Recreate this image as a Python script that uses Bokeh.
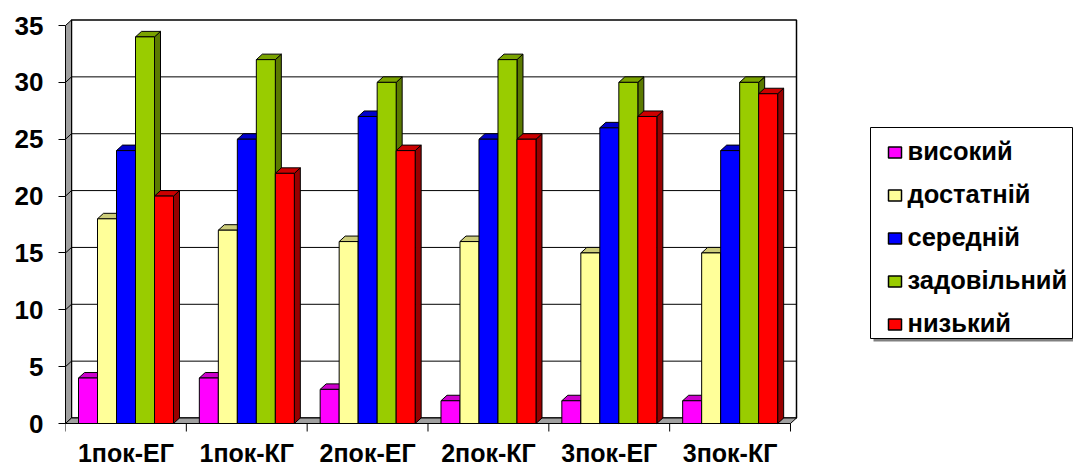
from bokeh.plotting import figure
from bokeh.models import Range1d, LinearAxis, FixedTicker
from bokeh.core.properties import value
from bokeh.embed import file_html
from bokeh.resources import INLINE

# ---------------- data ----------------
categories = ["1пок-ЕГ", "1пок-КГ", "2пок-ЕГ", "2пок-КГ", "3пок-ЕГ", "3пок-КГ"]
series_names = ["високий", "достатній", "середній", "задовільний", "низький"]
vysokyi = [4, 4, 3, 2, 2, 2]
dostatnii = [18, 17, 16, 16, 15, 15]
serednii = [24, 25, 27, 25, 26, 24]
zadovilnyi = [34, 32, 30, 32, 30, 30]
nyzkyi = [20, 22, 24, 25, 27, 29]
y_ticks = [0, 5, 10, 15, 20, 25, 30, 35]

series = [vysokyi, dostatnii, serednii, zadovilnyi, nyzkyi]
colors = ["#FF00FF", "#FFFF99", "#0000FF", "#99CC00", "#FF0000"]

FONT = value("Liberation Sans")

# ---------------- geometry ----------------
W, H = 1073, 468
LEFT = 65             # frame left (figure px)
PX_X = 120.833        # px per category
PX_Y = 11.371         # px per unit
Y0 = 423              # figure px of value 0
x_end = (W - LEFT) / PX_X
y_end = Y0 / PX_Y
y_start = -(H - Y0) / PX_Y

def fx(px):  # figure px -> data x
    return (px - LEFT) / PX_X

def fy(py):  # figure px -> data y
    return (Y0 - py) / PX_Y

dx = 6 / PX_X
dy = 5.5 / PX_Y
n = len(categories)
ymax = y_ticks[-1]
bw = 19 / PX_X
off = 13 / PX_X

def shade(hexcol, f):
    h = hexcol.lstrip("#")
    r, g, b = (int(h[i:i + 2], 16) for i in (0, 2, 4))
    return "#%02X%02X%02X" % (int(r * f), int(g * f), int(b * f))

p = figure(width=W, height=H, x_range=Range1d(0, x_end), y_range=Range1d(y_start, y_end),
           x_axis_type=None, y_axis_type=None, output_backend="svg", toolbar_location=None,
           min_border_left=LEFT, min_border_right=0, min_border_top=0, min_border_bottom=0,
           outline_line_color=None, background_fill_color="white", border_fill_color="white")

# walls
p.quad(left=dx, right=n + dx, bottom=dy, top=ymax + dy, fill_color="white",
       line_color="black", line_width=1.5)
p.patch([0, 0, dx, dx], [0, ymax, ymax + dy, dy], fill_color="#A0A0A0", line_color="black")
p.patch([0, n, n + dx, dx], [0, 0, dy, dy], fill_color="#A0A0A0", line_color="black")
gx, gy = [], []
for k in y_ticks[1:-1]:
    gx.append([0, dx, n + dx])
    gy.append([k, k + dy, k + dy])
p.multi_line(gx, gy, line_color="black", line_width=1)

# bars
xs, ys, fc = [], [], []
for g in range(n):
    for s, vals in enumerate(series):
        v = vals[g]
        x0 = g + off + s * bw
        x1 = x0 + bw
        xs.append([x1, x1 + dx, x1 + dx, x1]); ys.append([0, dy, v + dy, v]); fc.append(shade(colors[s], 0.6))
        xs.append([x0, x1, x1 + dx, x0 + dx]); ys.append([v, v, v + dy, v + dy]); fc.append(shade(colors[s], 0.8))
        xs.append([x0, x1, x1, x0]); ys.append([0, 0, v, v]); fc.append(colors[s])
p.patches(xs, ys, fill_color=fc, line_color="black", line_width=1)

# x axis (drawn through data scale)
p.segment(x0=[0], y0=[0], x1=[n], y1=[0], line_color="black", line_width=1)
p.segment(x0=list(range(n + 1)), y0=[0] * (n + 1), x1=list(range(n + 1)),
          y1=[-8 / PX_Y] * (n + 1), line_color="black", line_width=1)
p.text(x=[i + 0.5 for i in range(n)], y=[fy(452)] * n, text=categories,
       text_font=FONT, text_font_style="bold", text_font_size="25px",
       text_align="center", text_baseline="middle", text_color="black")

# y axis
yax = LinearAxis(ticker=FixedTicker(ticks=y_ticks), bounds=(0, ymax),
                 major_tick_out=7, major_tick_in=0, minor_tick_out=0, minor_tick_in=0,
                 major_label_standoff=15, axis_line_color="black", major_tick_line_color="black",
                 major_label_text_font="Liberation Sans", major_label_text_font_style="bold",
                 major_label_text_font_size="26px", major_label_text_color="black")
p.add_layout(yax, "left")

# legend (manual)
p.quad(left=fx(873), right=fx(1076), top=fy(130), bottom=fy(341), fill_color="#808080", line_color=None)
p.quad(left=fx(870), right=fx(1072), top=fy(127), bottom=fy(338), fill_color="white",
       line_color="black", line_width=1)
m = len(series_names)
p.quad(left=[fx(888)] * m, right=[fx(901)] * m,
       top=[fy(146.5 + 43 * k) for k in range(m)], bottom=[fy(157.5 + 43 * k) for k in range(m)],
       fill_color=colors, line_color="black", line_width=1.5)
p.text(x=[fx(907)] * m, y=[fy(150 + 43 * k) for k in range(m)], text=series_names,
       text_font=FONT, text_font_style="bold", text_font_size="25.5px",
       text_align="left", text_baseline="middle", text_color="black")

open("out.html", "w").write(file_html(p, INLINE))
